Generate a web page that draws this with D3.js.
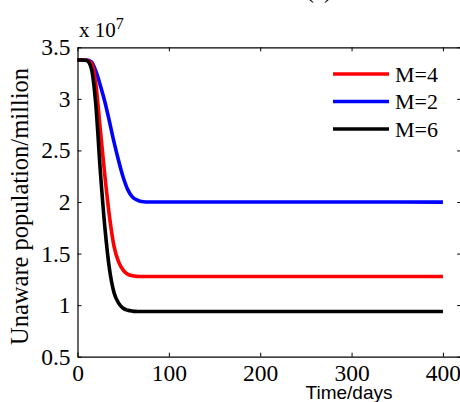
<!DOCTYPE html>
<html>
<head>
<meta charset="utf-8">
<script src="https://cdn.jsdelivr.net/npm/d3@7"></script>
<style>
body { margin: 0; background: #fff; }
text { font-family: "Liberation Serif", "Times New Roman", serif; fill: #000; }
</style>
</head>
<body>
<script>
var w = 460;
var h = 402;

// values in units of 10^7
var days = [0, 5, 10, 15, 20, 25, 30, 35, 40, 45, 50, 55, 60, 65, 70, 80, 100, 150, 200, 250, 300, 350, 400];
var m4 = [3.377, 3.377, 3.375, 3.35, 3.15, 2.70, 2.25, 1.86, 1.57, 1.42, 1.34, 1.30, 1.285, 1.279, 1.277, 1.277, 1.277, 1.277, 1.277, 1.277, 1.277, 1.277, 1.277];
var m2 = [3.377, 3.377, 3.377, 3.36, 3.27, 3.13, 2.97, 2.78, 2.58, 2.40, 2.24, 2.12, 2.05, 2.02, 2.005, 2.0, 2.0, 2.0, 2.0, 2.0, 2.0, 2.0, 1.999];
var m6 = [3.377, 3.377, 3.372, 3.30, 2.95, 2.30, 1.75, 1.35, 1.12, 1.02, 0.97, 0.95, 0.942, 0.939, 0.938, 0.938, 0.938, 0.938, 0.938, 0.938, 0.938, 0.938, 0.938];
var xTicks = [0, 100, 200, 300, 400];
var yTicks = [0.5, 1, 1.5, 2, 2.5, 3, 3.5];
var seriesNames = ["M=4", "M=2", "M=6"];
var seriesColors = ["#ff0000", "#0000ff", "#000000"];

var svg = d3.select("body")
    .append("svg")
    .attr("width", w)
    .attr("height", h);

var xScale = d3.scaleLinear()
    .domain([0, 420])
    .range([77.5, 461.2]);

var yScale = d3.scaleLinear()
    .domain([0.5, 3.5])
    .range([356.7, 47.3]);

var series = [m4, m2, m6].map(function(vals, i) {
    return {
        name: seriesNames[i],
        color: seriesColors[i],
        points: days.map(function(d, j) { return [d, vals[j]]; })
    };
});

var line = d3.line()
    .curve(d3.curveMonotoneX)
    .x(d => xScale(d[0]))
    .y(d => yScale(d[1]));

//lines (M=2 first, then M=4, black on top)
[1, 0, 2].forEach(function(i) {
    svg.append("path")
        .datum(series[i].points)
        .attr("fill", "none")
        .attr("stroke", series[i].color)
        .attr("stroke-width", 3.6)
        .attr("d", line);
});

//axes, matlab style ticks pointing in
var tickFont = "23.5px";

var xAxis = svg.append("g")
    .attr("transform", "translate(0," + yScale(0.5) + ")")
    .call(d3.axisBottom(xScale).tickValues(xTicks).tickSizeInner(-4).tickSizeOuter(0).tickPadding(8));
xAxis.selectAll("text").style("font-size", tickFont).attr("dy", "0.71em");

var xTop = svg.append("g")
    .attr("transform", "translate(0," + yScale(3.5) + ")")
    .call(d3.axisTop(xScale).tickValues(xTicks).tickSizeInner(-4).tickSizeOuter(0).tickFormat(""));

var yAxis = svg.append("g")
    .attr("transform", "translate(" + xScale(0) + ",0)")
    .call(d3.axisLeft(yScale).tickValues(yTicks).tickSizeInner(-4).tickSizeOuter(0).tickPadding(7).tickFormat(d3.format("")));
yAxis.selectAll("text").style("font-size", tickFont);

var yRight = svg.append("g")
    .attr("transform", "translate(" + xScale(420) + ",0)")
    .call(d3.axisRight(yScale).tickValues(yTicks).tickSizeInner(-4).tickSizeOuter(0).tickFormat(""));

svg.selectAll(".domain").attr("stroke", "#000").attr("stroke-width", 1.2);
svg.selectAll(".tick line").attr("stroke", "#000");

//exponent
var expo = svg.append("text")
    .attr("x", 79)
    .attr("y", 37)
    .style("font-size", "21px");
expo.append("tspan").text("x 10");
expo.append("tspan").attr("dy", -8).style("font-size", "16px").text("7");

//title, mostly cut off at the top
svg.append("text")
    .attr("x", 319)
    .attr("y", -2)
    .attr("text-anchor", "middle")
    .style("font-size", "23px")
    .text("(a)");

//y axis title
svg.append("text")
    .attr("transform", "translate(28,206.5) rotate(-90)")
    .attr("text-anchor", "middle")
    .style("font-size", "24.5px")
    .text("Unaware population/million");

//x axis title
svg.append("text")
    .attr("x", 349)
    .attr("y", 399)
    .attr("text-anchor", "middle")
    .style("font-family", "'Liberation Sans', Arial, sans-serif")
    .style("font-size", "19px")
    .text("Time/days");

//legend
var legend = svg.append("g");
series.forEach(function(s, i) {
    var ly = 74 + i * 27.5;
    legend.append("line")
        .attr("x1", 333)
        .attr("x2", 389)
        .attr("y1", ly)
        .attr("y2", ly)
        .attr("stroke", s.color)
        .attr("stroke-width", 3.6);
    legend.append("text")
        .attr("x", 395)
        .attr("y", ly + 7.5)
        .style("font-size", "22px")
        .text(s.name);
});
</script>
</body>
</html>
